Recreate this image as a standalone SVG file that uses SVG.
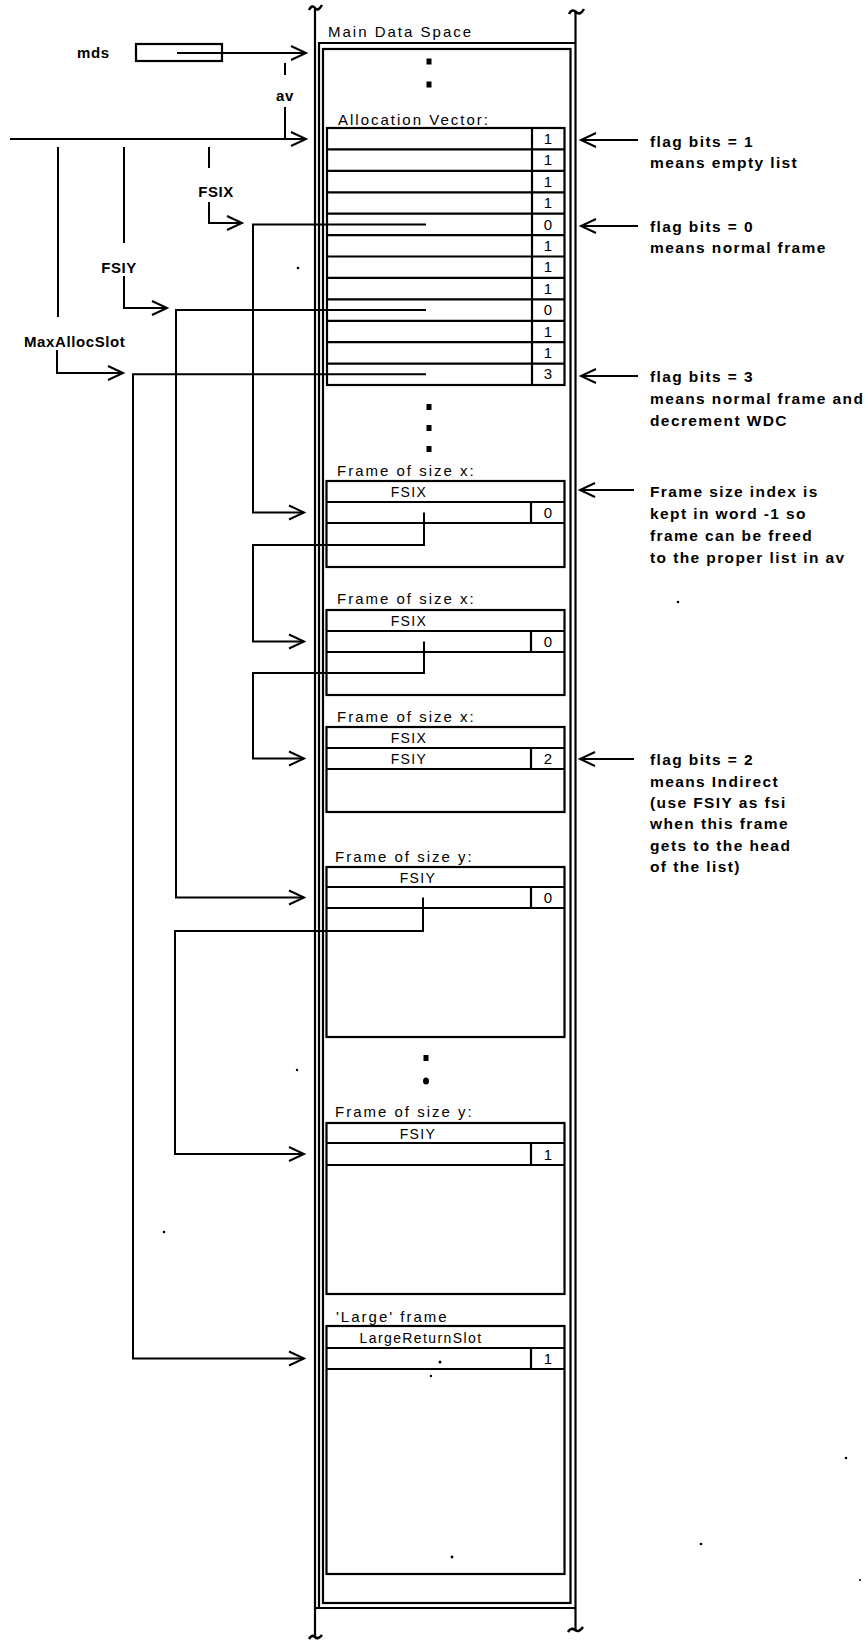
<svg xmlns="http://www.w3.org/2000/svg" width="866" height="1640" viewBox="0 0 866 1640">
<style>
.ln{fill:none;stroke:#000;stroke-width:2.2}
.bx{fill:none;stroke:#000;stroke-width:2.2}
.cn{fill:none;stroke:#000;stroke-width:2}
.lab{font-family:"Liberation Sans",Arial,sans-serif;font-size:15px;letter-spacing:2px;fill:#000}
.cell{font-family:"Liberation Sans",Arial,sans-serif;font-size:14px;letter-spacing:1.4px;fill:#000;text-anchor:middle}
.dig{font-family:"Liberation Sans",Arial,sans-serif;font-size:15px;fill:#000;text-anchor:middle}
.note{font-family:"Liberation Sans",Arial,sans-serif;font-size:15.5px;font-weight:bold;letter-spacing:1.4px;fill:#000}
.lft{font-family:"Liberation Sans",Arial,sans-serif;font-size:15px;font-weight:bold;letter-spacing:0.6px;fill:#000}
.dot{fill:#000}
</style>
<defs>
<marker id="ah" markerUnits="userSpaceOnUse" markerWidth="20" markerHeight="18" refX="16" refY="8" orient="auto" viewBox="0 0 20 16">
<path d="M1,1 L16,8 L1,15" fill="none" stroke="#000" stroke-width="2"/>
</marker>
</defs>

<g id="column">
<line class="ln" x1="315" y1="8" x2="315" y2="1637"/>
<line class="ln" x1="575.5" y1="11" x2="575.5" y2="1631"/>
<path class="ln" d="M319,1608 V43 H575.5 M315,1608 H575.5"/>
<path d="M309,10 q3,-6 6,-2 t7,-3" fill="none" stroke="#000" stroke-width="2.5"/>
<path d="M569,14 q3,-6 7,-2 t8,-3" fill="none" stroke="#000" stroke-width="2.5"/>
<path d="M309,1639 q3,-5 6,-2 t7,-2" fill="none" stroke="#000" stroke-width="2.5"/>
<path d="M568,1632 q3,-5 7,-2 t8,-3" fill="none" stroke="#000" stroke-width="2.5"/>
<rect class="bx" x="323" y="49" width="247.5" height="1554"/>
<text class="lab" x="328" y="37">Main Data Space</text>
<rect class="dot" x="426.5" y="58.5" width="5" height="6"/>
<rect class="dot" x="426.5" y="81.5" width="5" height="6"/>
<rect class="dot" x="426.5" y="404" width="5" height="6"/>
<rect class="dot" x="426.5" y="425" width="5" height="6"/>
<rect class="dot" x="426.5" y="446" width="5" height="6"/>
<rect class="dot" x="423.5" y="1055" width="5" height="6"/>
<ellipse class="dot" cx="426" cy="1081" rx="3" ry="3.5"/>
</g>

<g id="allocation-vector">
<text class="lab" x="338" y="125">Allocation Vector:</text>
<rect class="bx" x="327" y="128" width="237.5" height="257"/>
<path class="bx" d="M327,149.4 H564.5 M327,170.8 H564.5 M327,192.3 H564.5 M327,213.7 H564.5 M327,235.1 H564.5 M327,256.5 H564.5 M327,277.9 H564.5 M327,299.4 H564.5 M327,320.8 H564.5 M327,342.2 H564.5 M327,363.6 H564.5 M532,128 V385"/>
<text class="dig" x="548" y="144">1</text>
<text class="dig" x="548" y="165.4">1</text>
<text class="dig" x="548" y="186.8">1</text>
<text class="dig" x="548" y="208.2">1</text>
<text class="dig" x="548" y="229.6">0</text>
<text class="dig" x="548" y="251">1</text>
<text class="dig" x="548" y="272.4">1</text>
<text class="dig" x="548" y="293.8">1</text>
<text class="dig" x="548" y="315.2">0</text>
<text class="dig" x="548" y="336.6">1</text>
<text class="dig" x="548" y="358">1</text>
<text class="dig" x="548" y="379.4">3</text>
</g>

<g id="frame-x1">
<text class="lab" x="337" y="476">Frame of size x:</text>
<rect class="bx" x="326.5" y="481" width="238" height="86"/>
<path class="bx" d="M326.5,502 H564.5 M326.5,523 H564.5 M531,502 V523"/>
<text class="cell" x="409" y="497">FSIX</text>
<text class="dig" x="548" y="518">0</text>
</g>

<g id="frame-x2">
<text class="lab" x="337" y="604">Frame of size x:</text>
<rect class="bx" x="326.5" y="610" width="238" height="85"/>
<path class="bx" d="M326.5,631 H564.5 M326.5,652 H564.5 M531,631 V652"/>
<text class="cell" x="409" y="626">FSIX</text>
<text class="dig" x="548" y="647">0</text>
</g>

<g id="frame-x3">
<text class="lab" x="337" y="722">Frame of size x:</text>
<rect class="bx" x="326.5" y="727" width="238" height="85"/>
<path class="bx" d="M326.5,748 H564.5 M326.5,769 H564.5 M531,748 V769"/>
<text class="cell" x="409" y="743">FSIX</text>
<text class="cell" x="409" y="764">FSIY</text>
<text class="dig" x="548" y="764">2</text>
</g>

<g id="frame-y1">
<text class="lab" x="335" y="862">Frame of size y:</text>
<rect class="bx" x="326.5" y="867" width="238" height="170"/>
<path class="bx" d="M326.5,887 H564.5 M326.5,908 H564.5 M531,887 V908"/>
<text class="cell" x="418" y="883">FSIY</text>
<text class="dig" x="548" y="903">0</text>
</g>

<g id="frame-y2">
<text class="lab" x="335" y="1117">Frame of size y:</text>
<rect class="bx" x="326.5" y="1123" width="238" height="171"/>
<path class="bx" d="M326.5,1143 H564.5 M326.5,1165 H564.5 M531,1143 V1165"/>
<text class="cell" x="418" y="1139">FSIY</text>
<text class="dig" x="548" y="1160">1</text>
</g>

<g id="frame-large">
<text class="lab" x="336" y="1322">'Large' frame</text>
<rect class="bx" x="326.5" y="1326" width="238" height="248"/>
<path class="bx" d="M326.5,1348 H564.5 M326.5,1369 H564.5 M531,1348 V1369"/>
<text class="cell" x="421" y="1343">LargeReturnSlot</text>
<text class="dig" x="548" y="1364">1</text>
</g>

<g id="left-labels">
<text class="lft" x="77" y="58">mds</text>
<rect class="bx" x="136" y="44" width="86" height="17"/>
<text class="lft" x="285" y="101" text-anchor="middle">av</text>
<text class="lft" x="216" y="197" text-anchor="middle">FSIX</text>
<text class="lft" x="119" y="273" text-anchor="middle">FSIY</text>
<text class="lft" x="24" y="347">MaxAllocSlot</text>
</g>

<g id="notes">
<text class="note" x="650" y="147">flag bits = 1</text>
<text class="note" x="650" y="168">means empty list</text>
<text class="note" x="650" y="232">flag bits = 0</text>
<text class="note" x="650" y="253">means normal frame</text>
<text class="note" x="650" y="382">flag bits = 3</text>
<text class="note" x="650" y="404">means normal frame and</text>
<text class="note" x="650" y="426">decrement WDC</text>
<text class="note" x="650" y="497">Frame size index is</text>
<text class="note" x="650" y="519">kept in word -1 so</text>
<text class="note" x="650" y="541">frame can be freed</text>
<text class="note" x="650" y="563">to the proper list in av</text>
<text class="note" x="650" y="765">flag bits = 2</text>
<text class="note" x="650" y="787">means Indirect</text>
<text class="note" x="650" y="808">(use FSIY as fsi</text>
<text class="note" x="650" y="829">when this frame</text>
<text class="note" x="650" y="851">gets to the head</text>
<text class="note" x="650" y="872">of the list)</text>
</g>

<g id="connectors">
<path class="cn" d="M177,53 H306" marker-end="url(#ah)"/>
<path class="cn" d="M285,63 V75"/>
<path class="cn" d="M285,107 V139"/>
<path class="cn" d="M10,139 H306" marker-end="url(#ah)"/>
<path class="cn" d="M58,147 V317 M124,147 V243 M209,147 V168"/>
<path class="cn" d="M209,202 V223 H242" marker-end="url(#ah)"/>
<path class="cn" d="M124,276 V308 H167" marker-end="url(#ah)"/>
<path class="cn" d="M57,350 V373 H123" marker-end="url(#ah)"/>
<path class="cn" d="M426,224.4 H253 V512.5 H304" marker-end="url(#ah)"/>
<path class="cn" d="M424,512.5 V545 H253 V641.5 H304" marker-end="url(#ah)"/>
<path class="cn" d="M424,641.5 V673 H253 V758.5 H304" marker-end="url(#ah)"/>
<path class="cn" d="M426,310.1 H176 V897.5 H304" marker-end="url(#ah)"/>
<path class="cn" d="M423,897.5 V931 H175 V1154 H304" marker-end="url(#ah)"/>
<path class="cn" d="M426,374.3 H133 V1358.5 H304" marker-end="url(#ah)"/>
<path class="cn" d="M638,140 H581" marker-end="url(#ah)"/>
<path class="cn" d="M638,226 H581" marker-end="url(#ah)"/>
<path class="cn" d="M638,376 H581" marker-end="url(#ah)"/>
<path class="cn" d="M634,490 H580" marker-end="url(#ah)"/>
<path class="cn" d="M634,759 H580" marker-end="url(#ah)"/>
</g>

<g id="specks">
<circle class="dot" cx="298" cy="268" r="1.3"/>
<circle class="dot" cx="678" cy="602" r="1.3"/>
<circle class="dot" cx="297" cy="1070" r="1.2"/>
<circle class="dot" cx="164" cy="1232" r="1.3"/>
<circle class="dot" cx="440" cy="1362" r="1.5"/>
<circle class="dot" cx="431" cy="1376" r="1.2"/>
<circle class="dot" cx="452" cy="1557" r="1.4"/>
<circle class="dot" cx="701" cy="1544" r="1.3"/>
<circle class="dot" cx="846" cy="1458" r="1.3"/>
<circle class="dot" cx="860" cy="1580" r="1"/>
</g>
</svg>
